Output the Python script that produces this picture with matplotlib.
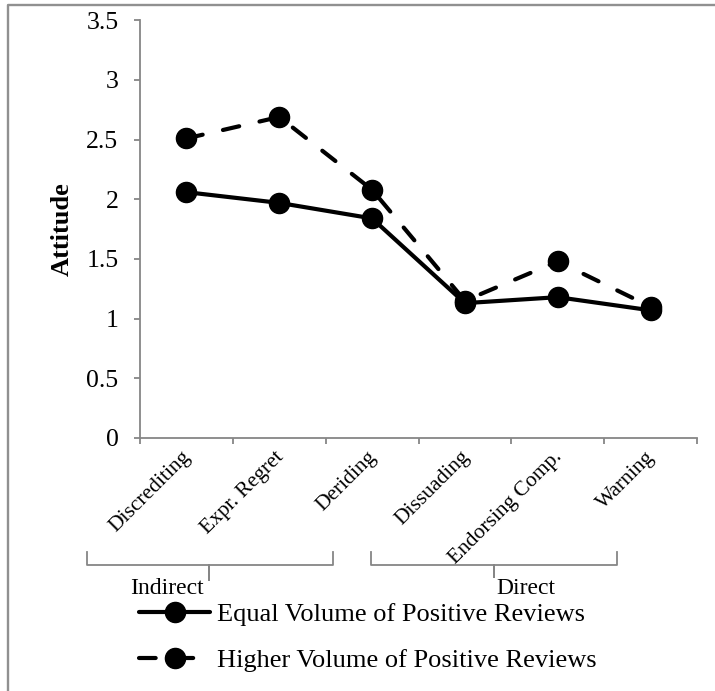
import numpy as np
import matplotlib
matplotlib.use('Agg')
import matplotlib.pyplot as plt
from matplotlib.lines import Line2D
from matplotlib.ticker import FuncFormatter
from matplotlib.transforms import ScaledTranslation

plt.rcParams['font.family'] = 'Liberation Serif'

categories = ['Discrediting', 'Expr. Regret', 'Deriding', 'Dissuading', 'Endorsing Comp.', 'Warning']
equal_volume = [2.06, 1.97, 1.84, 1.13, 1.18, 1.07]
higher_volume = [2.51, 2.69, 2.08, 1.15, 1.48, 1.10]
series_names = ['Equal Volume of Positive Reviews', 'Higher Volume of Positive Reviews']
y_ticks = [0, 0.5, 1, 1.5, 2, 2.5, 3, 3.5]

W, H = 715, 691
gray = '#868686'

fig = plt.figure(figsize=(W / 100, H / 100), dpi=100)
ax = fig.add_axes([140 / W, 1 - 438 / H, (697 - 140) / W, (438 - 20.3) / H])


def px(x, y):
    # figure pixel (from top-left) -> figure fraction
    return x / W, 1 - y / H


x = np.arange(len(categories))
ax.plot(x, equal_volume, color='black', lw=3, marker='o', ms=14.5,
        solid_capstyle='round', label=series_names[0], zorder=3)
ax.plot(x, higher_volume, color='black', lw=3, marker='o', ms=14.5,
        linestyle=(0, (4, 5)), dash_capstyle='round', label=series_names[1], zorder=3)

ax.set_xlim(-0.5, len(categories) - 0.5)
ax.set_ylim(0, 3.5)
ax.set_yticks(y_ticks)
ax.yaxis.set_major_formatter(FuncFormatter(lambda v, p: '{:g}'.format(v)))
ax.set_xticks(np.arange(-0.5, len(categories)), labels=[])
ax.set_xticks(x, labels=categories, minor=True)

for side in ['top', 'right']:
    ax.spines[side].set_visible(False)
for side in ['left', 'bottom']:
    ax.spines[side].set_color(gray)
    ax.spines[side].set_linewidth(1.3)

ax.tick_params(axis='y', direction='out', length=4.5, width=1.3, color=gray,
               labelsize=18.5, pad=11)
ax.tick_params(axis='x', which='major', direction='out', length=4, width=1.3, color=gray)
ax.tick_params(axis='x', which='minor', length=0, labelsize=15.5, pad=7)
for lab in ax.get_xticklabels(minor=True):
    lab.set_rotation(45)
    lab.set_ha('right')
    lab.set_va('top')
    lab.set_rotation_mode('anchor')
    lab.set_transform(lab.get_transform() + ScaledTranslation(-5 / 100, 0, fig.dpi_scale_trans))

fig.text(*px(62, 229), 'Attitude', rotation=90, fontsize=19, fontweight='bold',
         ha='center', va='center')

# brackets grouping the categories
def bracket(x0, x1, xm, ytop, ymid, ybot):
    xs = [x0, x0, xm, xm, xm, x1, x1]
    ys = [ytop, ymid, ymid, ybot, ymid, ymid, ytop]
    pts = [px(a, b) for a, b in zip(xs, ys)]
    fig.add_artist(Line2D([p[0] for p in pts], [p[1] for p in pts],
                          color=gray, lw=1.3, solid_joinstyle='round'))


bracket(87, 333, 209, 552, 565, 580)
bracket(371, 617, 494, 552, 565, 577)
fig.text(*px(167, 589), 'Indirect', fontsize=17, ha='center', va='center')
fig.text(*px(526, 589), 'Direct', fontsize=17, ha='center', va='center')

ax.legend(loc='upper left', bbox_to_anchor=px(139, 603), bbox_transform=fig.transFigure,
          frameon=False, fontsize=19, handlelength=2.7, handletextpad=0.25,
          borderpad=0, borderaxespad=0, labelspacing=0.85)

# outer chart border (left and top)
fig.add_artist(Line2D([8 / W, 8 / W, 1], [0, 1 - 5 / H, 1 - 5 / H], color='#909090', lw=1.7))

fig.savefig('out.png', dpi=100)
